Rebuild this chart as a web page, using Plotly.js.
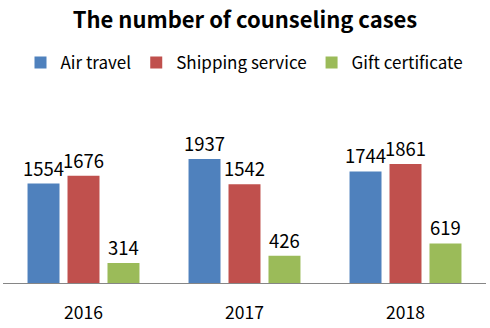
<!DOCTYPE html>
<html><head><meta charset="utf-8">
<script src="https://cdn.plot.ly/plotly-3.0.1.min.js"></script>
<style>html,body{margin:0;padding:0;background:#fff}#c{width:490px;height:328px}</style>
</head><body><div id="c"></div>
<script>
const years = ["2016", "2017", "2018"];
const seriesNames = ["Air travel", "Shipping service", "Gift certificate"];
const airTravel = [1554, 1937, 1744];
const shipping = [1676, 1542, 1861];
const giftCert = [314, 426, 619];
const colors = ["#4F81BD", "#C0504D", "#9BBB59"];
const FONT = "'Malgun Gothic', 'Noto Sans CJK KR', 'Noto Sans', sans-serif";

const data = [airTravel, shipping, giftCert].map((vals, i) => ({
  type: "bar", x: years, y: vals, name: seriesNames[i],
  marker: {color: colors[i]},
  text: vals.map(String), textposition: "outside", constraintext: "none",
  cliponaxis: false,
  textfont: {family: FONT, size: 18.5, color: "#000"}
}));

const layout = {
  width: 490, height: 328,
  margin: {l: 3, r: 4, t: 123, b: 45},
  paper_bgcolor: "#fff", plot_bgcolor: "#fff",
  font: {family: FONT, color: "#000"},
  title: {text: "<b>The number of counseling cases</b>", font: {family: FONT, size: 22, color: "#000"},
          x: 0.5, xanchor: "center", y: 0.939, yanchor: "middle"},
  showlegend: true,
  legend: {orientation: "h", x: 0.5, xanchor: "center", yref: "container", y: 0.808, yanchor: "middle",
           font: {family: FONT, size: 17, color: "#000"}, traceorder: "normal"},
  barmode: "group", bargap: 0.255, bargroupgap: 0.2,
  xaxis: {showline: true, linecolor: "#868686", linewidth: 1, ticks: "", showgrid: false,
          tickfont: {family: FONT, size: 17.5, color: "#000"}, ticklabelstandoff: 14},
  yaxis: {range: [0, 2500], visible: false, showgrid: false, zeroline: false}
};
Plotly.newPlot("c", data, layout, {displayModeBar: false, staticPlot: true});
</script></body></html>
